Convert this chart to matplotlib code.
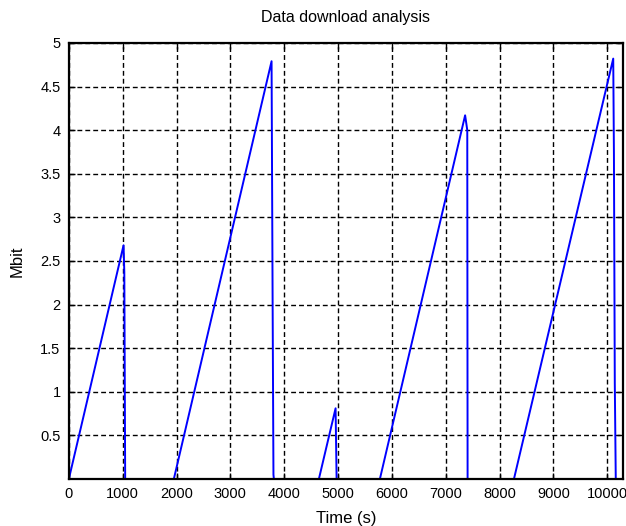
import matplotlib
matplotlib.use("Agg")
import matplotlib.pyplot as plt
import numpy as np

plt.rcParams['font.family'] = ['Liberation Sans', 'DejaVu Sans']

time_s = [0, 1016, 1030, 1046, 1950, 3765, 3784, 3800, 3808, 4644, 4954, 4973, 4980,
          5777, 7360, 7400, 7406, 8267, 10111, 10124, 10140, 10158, 10290]
mbit = [0, 2.68, 2.37, 0, 0, 4.79, 2.1, 0.05, 0, 0, 0.81, 0, 0,
        0, 4.17, 4.0, 0, 0, 4.82, 3.72, 1.1, 0, 0]

xticks = [0, 1000, 2000, 3000, 4000, 5000, 6000, 7000, 8000, 9000, 10000]
yticks = [0.5, 1, 1.5, 2, 2.5, 3, 3.5, 4, 4.5, 5]
yticklabels = ['0.5', '1', '1.5', '2', '2.5', '3', '3.5', '4', '4.5', '5']

fig = plt.figure(figsize=(6.26, 5.26), dpi=100)
ax = fig.add_axes([0.110, 0.0894, 0.885, 0.8290])
ax.plot(time_s, mbit, color='#0000ff', linewidth=1.4)
ax.set_xlim(0, 10290)
ax.set_ylim(0, 5)
ax.set_xticks(xticks)
ax.set_xticklabels([str(t) for t in xticks])
ax.set_yticks(yticks)
ax.set_yticklabels(yticklabels)
ax.grid(True, color='black', linestyle=(0, (3.5, 2.2)), linewidth=1.0)
ax.tick_params(direction='in', top=True, right=True, labelsize=10.5, length=4, width=1,
               colors='black', pad=6)
for s in ax.spines.values():
    s.set_linewidth(1.6)
ax.set_title('Data download analysis', fontsize=11.5, pad=15)
ax.set_xlabel('Time (s)', fontsize=12, labelpad=7)
ax.set_ylabel('Mbit', fontsize=12, labelpad=11)
fig.savefig('out.png', dpi=100)
